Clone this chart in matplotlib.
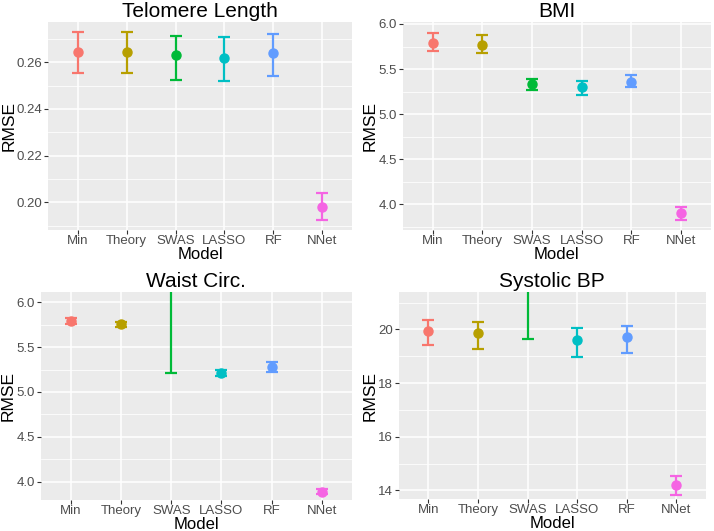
import matplotlib
matplotlib.use("Agg")
import matplotlib.pyplot as plt
from matplotlib.ticker import MultipleLocator

plt.rcParams['font.family'] = ['Liberation Sans', 'DejaVu Sans']

models = ["Min", "Theory", "SWAS", "LASSO", "RF", "NNet"]
colors = ["#F8766D", "#B79F00", "#00BA38", "#00BFC4", "#619CFF", "#F564E3"]

# mean, lower, upper for each model
telomere_mean = [0.2645, 0.2645, 0.2631, 0.2618, 0.2639, 0.1981]
telomere_lo = [0.2553, 0.2553, 0.2524, 0.2520, 0.2540, 0.1924]
telomere_hi = [0.2729, 0.2729, 0.2714, 0.2708, 0.2723, 0.2039]

bmi_mean = [5.786, 5.768, 5.335, 5.296, 5.359, 3.907]
bmi_lo = [5.700, 5.675, 5.270, 5.215, 5.300, 3.826]
bmi_hi = [5.900, 5.880, 5.395, 5.373, 5.432, 3.973]

waist_mean = [5.792, 5.755, 7.000, 5.216, 5.275, 3.888]
waist_lo = [5.755, 5.725, 5.216, 5.182, 5.219, 3.859]
waist_hi = [5.829, 5.781, 8.784, 5.245, 5.335, 3.914]

bp_mean = [19.94, 19.85, 23.00, 19.61, 19.71, 14.19]
bp_lo = [19.43, 19.28, 19.64, 18.97, 19.11, 13.83]
bp_hi = [20.34, 20.29, 26.36, 20.05, 20.11, 14.53]

W, H = 714, 531
fig = plt.figure(figsize=(W / 100, H / 100), dpi=100)


def px_axes(x0, y0, x1, y1):
    return fig.add_axes([x0 / W, 1 - y1 / H, (x1 - x0) / W, (y1 - y0) / H])


def panel(ax, title, mean, lo, hi, ylim, major, fmt, ylab_x):
    ax.set_facecolor("#EBEBEB")
    for i in range(len(models)):
        ax.errorbar(i + 1, mean[i],
                    yerr=[[mean[i] - lo[i]], [hi[i] - mean[i]]],
                    fmt="o", color=colors[i], ms=6.5, lw=1.6,
                    capsize=4.5, capthick=1.6, zorder=3)
    ax.set_xlim(0.4, 6.6)
    ax.set_ylim(*ylim)
    ax.set_xticks(range(1, 7))
    ax.set_xticklabels(models)
    ax.yaxis.set_major_locator(MultipleLocator(major))
    ax.yaxis.set_minor_locator(MultipleLocator(major / 2))
    ax.yaxis.set_major_formatter(fmt)
    ax.grid(True, which="major", color="white", lw=1.1, zorder=0)
    ax.grid(True, which="minor", axis="y", color="white", lw=0.55, zorder=0)
    ax.set_axisbelow(True)
    for s in ax.spines.values():
        s.set_visible(False)
    ax.tick_params(which="major", length=2.8, width=0.8, color="#333333",
                   labelsize=9.5, labelcolor="#4D4D4D", pad=1.5)
    ax.tick_params(axis="x", pad=0.5)
    ax.tick_params(which="minor", length=0)
    ax.set_title(title, fontsize=15, pad=3.5)
    ax.set_xlabel("Model", fontsize=12, va="baseline")
    ax.set_ylabel("RMSE", fontsize=12.5, va="center")
    ax.yaxis.set_label_coords(ylab_x, 0.5)
    ax.xaxis.set_label_coords(0.5, -0.141)


ax1 = px_axes(48.3, 22, 351.7, 230)
panel(ax1, "Telomere Length", telomere_mean, telomere_lo, telomere_hi,
      (0.1881, 0.2773), 0.02, "{x:.2f}", -0.1295)

ax2 = px_axes(402.7, 22, 711, 230)
panel(ax2, "BMI", bmi_mean, bmi_lo, bmi_hi, (3.715, 6.022), 0.5, "{x:.1f}",
      -0.1044)

ax3 = px_axes(40.7, 292.3, 352, 500)
panel(ax3, "Waist Circ.", waist_mean, waist_lo, waist_hi, (3.796, 6.111), 0.5,
      "{x:.1f}", -0.1034)

ax4 = px_axes(398.7, 292.3, 706, 499)
panel(ax4, "Systolic BP", bp_mean, bp_lo, bp_hi, (13.68, 21.38), 2, "{x:.0f}",
      -0.0918)

fig.savefig("out.png", dpi=100, facecolor="white")
